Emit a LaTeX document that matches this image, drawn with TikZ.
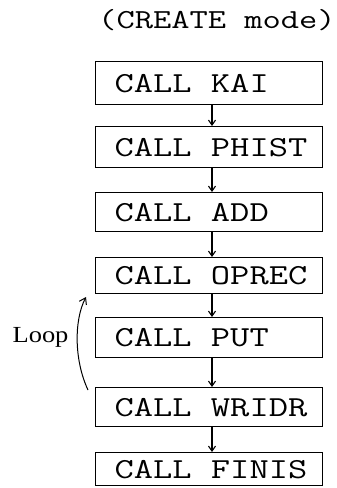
\documentclass[tikz,border=0pt]{standalone}
\usepackage{fontspec}
\setmonofont[FakeStretch=1.29]{Latin Modern Mono}
\setmainfont{Liberation Serif}
\newfontfamily\loopfont[FakeStretch=1.15]{Liberation Serif}
\usetikzlibrary{arrows.meta}
% fixed-width, left-aligned line inside each call box (keeps full mono spaces)
\newcommand\boxline[1]{\makebox[189pt][l]{#1}}
\begin{document}
\begin{tikzpicture}[x=1pt,y=-1pt,
  callbox/.style={draw,line width=1.3pt,minimum width=227pt,anchor=north west,inner sep=0pt,
    font=\ttfamily\fontsize{29}{29}\selectfont},
  flow/.style={line width=1.1pt,-{Straight Barb[length=5pt,width=7pt]}}]
\useasboundingbox (0,0) rectangle (337,488);
\node[font=\ttfamily\fontsize{27.5}{28}\selectfont] (title) at (217,20) {(CREATE mode)};
\node[callbox,minimum height=43pt] (kai) at (95,61) {\boxline{CALL KAI}};
\node[callbox,minimum height=41pt] (phist) at (95,126) {\boxline{CALL PHIST}};
\node[callbox,minimum height=39pt] (add) at (95,192) {\boxline{CALL ADD}};
\node[callbox,minimum height=36pt] (oprec) at (95,257) {\boxline{CALL OPREC}};
\node[callbox,minimum height=40pt] (put) at (95,317) {\boxline{CALL PUT}};
\node[callbox,minimum height=39pt] (wridr) at (95,387) {\boxline{CALL WRIDR}};
\node[callbox,minimum height=33pt] (finis) at (95,452) {\boxline{CALL FINIS}};
\foreach \a/\b in {kai/phist,phist/add,add/oprec,oprec/put,put/wridr,wridr/finis}
  \draw[flow] (\a.south -| 212,0) -- (\b.north -| 212,0);
\coordinate (lbot) at (88,390);
\coordinate (ltop) at (86,297);
\draw[line width=1pt,-{Straight Barb[length=6pt,width=8pt]}] (lbot) .. controls (74,360) and (74,320) .. (ltop);
\node[font=\loopfont\fontsize{23}{23}\selectfont,anchor=east] (loop) at (72,337) {Loop};
\end{tikzpicture}
\end{document}
